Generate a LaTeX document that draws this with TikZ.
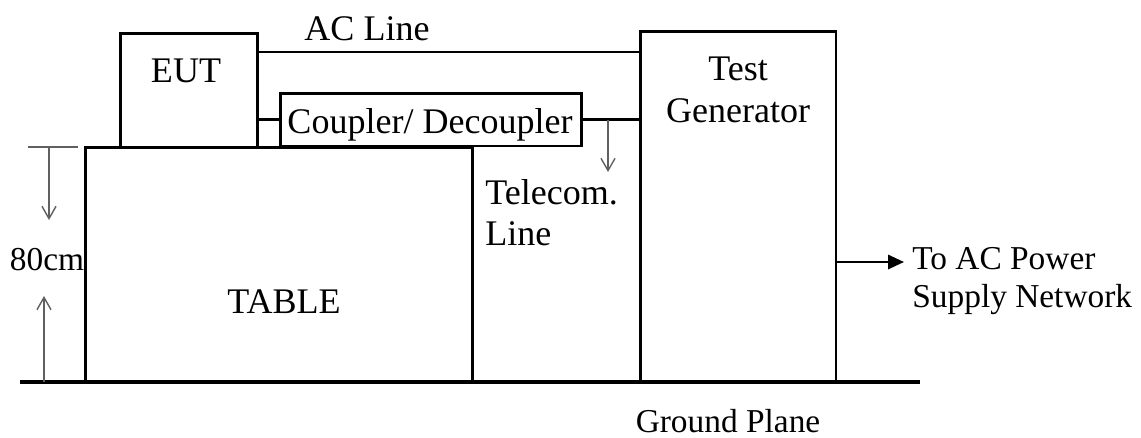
\documentclass[tikz,border=0pt]{standalone}
\usepackage{fontspec}
\setmainfont{Liberation Serif}
\usetikzlibrary{positioning, arrows.meta}

\tikzset{
  unit/.style={draw, line width=1.7pt, inner sep=0pt},
  wire/.style={line width=1.4pt},
  ground/.style={line width=2.6pt},
  dimarrow/.style={-{Straight Barb[length=7pt,width=8pt]}, gray!75!black, line width=0.8pt},
  txt/.style={font=\fontsize{20.5}{23.5}\selectfont, inner sep=0pt},
  smalltxt/.style={font=\fontsize{19}{21.8}\selectfont, inner sep=0pt},
}

\begin{document}
\begin{tikzpicture}[x=0.02cm, y=-0.02cm]
  \useasboundingbox (0,0) rectangle (1141,437);

  % boxes
  \node[unit, minimum width=7.76cm, minimum height=4.7cm] (table) at (279,264.5) {};
  \node[unit, minimum width=2.76cm, minimum height=2.28cm] (eut) at (189,90) {};
  \node[unit, minimum width=6.04cm, minimum height=1.06cm] (cpl) at (431,119.5) {};
  \node[unit, minimum width=3.92cm, minimum height=7.02cm] (gen) at (738,206.5) {};

  % labels
  \node[txt, anchor=base] (eutlbl) at (186,82) {EUT};
  \node[txt, anchor=base] (cpllbl) at (430,133) {Coupler/ Decoupler};
  \node[txt, anchor=base] (tablelbl) at (284,313) {TABLE};
  \node[txt, anchor=north, align=center] (genlbl) at (738,57) {Test\\Generator};
  \node[txt, anchor=base] (aclbl) at (367,40) {AC Line};
  \node[txt, anchor=north west, align=left] (tellbl) at (485,179) {Telecom.\\Line};
  \node[smalltxt, anchor=north west, align=left] (outlbl) at (912,247) {To AC Power\\Supply Network};
  \node[smalltxt, anchor=base] (gndlbl) at (728,432) {Ground Plane};
  \node[smalltxt, anchor=base] (hlbl) at (47,270) {80cm};

  % lines
  \coordinate (acline) at (0,52);
  \draw[wire] (eut.east |- acline) -- (gen.west |- acline);
  \draw[wire] (eut.east |- cpl.west) -- (cpl.west);
  \draw[wire] (cpl.east) -- (gen.west |- cpl.east);

  \coordinate (telstart) at (608,119.5);
  \coordinate (telend) at (608,172);
  \draw[dimarrow] (telstart) -- (telend);

  \coordinate (outtip) at (904,262);
  \draw[wire, -{Triangle[length=9pt,width=8pt]}] (gen.east |- outtip) -- (outtip);

  % ground plane
  \coordinate (gndleft) at (20,382);
  \coordinate (gndright) at (920,382);
  \draw[ground] (gndleft) -- (gndright);

  % height of table
  \coordinate (ticka) at (28,147);
  \coordinate (tickb) at (78,147);
  \draw[gray!75!black, line width=0.8pt] (ticka) -- (tickb);
  \coordinate (downend) at (49,220);
  \draw[dimarrow] (downend |- ticka) -- (downend);
  \coordinate (upend) at (44,296);
  \draw[dimarrow] (upend |- gndleft) -- (upend);
\end{tikzpicture}
\end{document}
